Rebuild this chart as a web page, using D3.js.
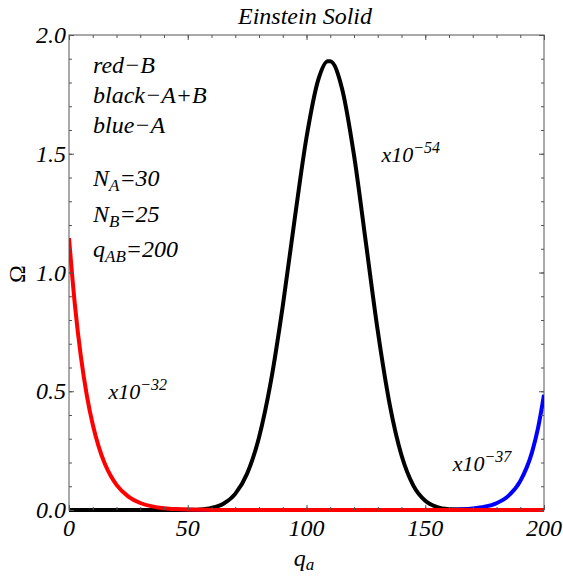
<!DOCTYPE html>
<html>
<head>
<meta charset="utf-8">
<script src="https://cdn.jsdelivr.net/npm/d3@7"></script>
<style>
  html, body { margin: 0; padding: 0; background: #fff; }
</style>
</head>
<body>
<svg id="chart" width="563" height="576"></svg>
<script>
// Multiplicity of two Einstein solids sharing q = 200 energy units (scaled values)
const qB = [0, 2.5, 5, 7.5, 10, 12.5, 15, 17.5, 20, 25, 30, 35, 40, 45, 50, 55, 60, 65, 70, 80, 100, 150, 200];
const omegaB = [1.145, 0.862, 0.646, 0.483, 0.360, 0.267, 0.197, 0.145, 0.106, 0.0565, 0.0295, 0.0151, 0.0076, 0.0038, 0.0018, 0.0009, 0.0004, 0.0002, 0.0001, 0, 0, 0, 0];

const qAB = [0, 20, 40, 45, 50, 55, 60, 65, 70, 75, 80, 85, 90, 95, 100, 105, 109, 110, 115, 120, 125, 130, 135, 140, 145, 150, 155, 160, 165, 170, 175, 200];
const omegaAB = [0, 0, 0, 0.0001, 0.0006, 0.0025, 0.0089, 0.0264, 0.0679, 0.1532, 0.3053, 0.5412, 0.8585, 1.2231, 1.5684, 1.8133, 1.8900, 1.8898, 1.7731, 1.4940, 1.1258, 0.7544, 0.4460, 0.2304, 0.1026, 0.0388, 0.0122, 0.0031, 0.0006, 0.0001, 0, 0];

const qA = [0, 100, 140, 150, 155, 160, 165, 170, 175, 180, 185, 190, 195, 197.5, 200];
const omegaA = [0, 0, 0, 0.0002, 0.0005, 0.0012, 0.0028, 0.0062, 0.0134, 0.0285, 0.0594, 0.1216, 0.2449, 0.3455, 0.485];

const xTicks = [0, 50, 100, 150, 200];
const xTickLabels = ["0", "50", "100", "150", "200"];
const yTicks = [0, 0.5, 1.0, 1.5, 2.0];
const yTickLabels = ["0.0", "0.5", "1.0", "1.5", "2.0"];

const FONT = "Liberation Serif";

const svg = d3.select("#chart");
const plotL = 69, plotR = 544, plotT = 35, plotB = 510;

const x = d3.scaleLinear().domain([0, 200]).range([plotL, plotR]);
const y = d3.scaleLinear().domain([0, 2]).range([plotB, plotT]);

const frameColor = "#555";

// all text: serif italic
function label(parent, size) {
  return parent.append("text")
    .attr("font-family", FONT)
    .attr("font-style", "italic")
    .attr("font-size", size)
    .attr("fill", "#000");
}

// frame (drawn beneath the curves)
svg.append("rect")
  .attr("x", plotL).attr("y", plotT)
  .attr("width", plotR - plotL).attr("height", plotB - plotT)
  .attr("fill", "none").attr("stroke", frameColor).attr("stroke-width", 1);

// clip curves to the horizontal extent of the frame
svg.append("defs").append("clipPath").attr("id", "plotClip")
  .append("rect").attr("x", plotL).attr("y", plotT - 10)
  .attr("width", plotR - plotL).attr("height", plotB - plotT + 16);

const line = d3.line()
  .x(d => x(d[0]))
  .y(d => y(d[1]))
  .curve(d3.curveMonotoneX);

const series = [
  { q: qA, v: omegaA, color: "#0000ff" },
  { q: qAB, v: omegaAB, color: "#000000" },
  { q: qB, v: omegaB, color: "#ff0000" }
];

const curves = svg.append("g").attr("clip-path", "url(#plotClip)");
series.forEach(s => {
  curves.append("path")
    .datum(d3.zip(s.q, s.v))
    .attr("d", line)
    .attr("fill", "none")
    .attr("stroke", s.color)
    .attr("stroke-width", 4)
    .attr("stroke-linejoin", "round");
});

// inward ticks on all four sides
const minorX = d3.range(0, 201, 10);
const minorY = d3.range(0, 21).map(i => i / 10);
const axes = [
  [d3.axisBottom(x).tickValues(minorX).tickSizeInner(-3), `translate(0,${plotB})`],
  [d3.axisTop(x).tickValues(minorX).tickSizeInner(-3), `translate(0,${plotT})`],
  [d3.axisLeft(y).tickValues(minorY).tickSizeInner(-3), `translate(${plotL},0)`],
  [d3.axisRight(y).tickValues(minorY).tickSizeInner(-3), `translate(${plotR},0)`],
  [d3.axisBottom(x).tickValues(xTicks).tickSizeInner(-5), `translate(0,${plotB})`],
  [d3.axisTop(x).tickValues(xTicks).tickSizeInner(-5), `translate(0,${plotT})`],
  [d3.axisLeft(y).tickValues(yTicks).tickSizeInner(-5), `translate(${plotL},0)`],
  [d3.axisRight(y).tickValues(yTicks).tickSizeInner(-5), `translate(${plotR},0)`]
];
axes.forEach(([ax, tr]) => {
  const g = svg.append("g").attr("transform", tr).call(ax.tickSizeOuter(0).tickFormat(""));
  g.select(".domain").remove();
  g.selectAll("text").remove();
  g.selectAll("line").attr("stroke", frameColor);
});

// tick labels
const xLab = svg.append("g");
xTicks.forEach((d, i) => {
  label(xLab, 24).attr("x", x(d)).attr("y", 536).attr("text-anchor", "middle").text(xTickLabels[i]);
});
const yLab = svg.append("g");
yTicks.forEach((d, i) => {
  label(yLab, 24).attr("x", 66).attr("y", y(d) + 8).attr("text-anchor", "end").text(yTickLabels[i]);
});

// title
label(svg, 24).attr("x", 305).attr("y", 24).attr("text-anchor", "middle").text("Einstein Solid");

// axis labels
const xl = label(svg, 24).attr("x", 304).attr("y", 566).attr("text-anchor", "middle");
xl.append("tspan").text("q");
xl.append("tspan").attr("font-size", 17).attr("dy", 4).text("a");

label(svg, 24)
  .attr("transform", "translate(25,274) rotate(-90)")
  .attr("text-anchor", "middle")
  .attr("font-style", "normal")
  .text("Ω");

// legend notes
const notes = [
  { y: 72.7, parts: [["red−B"]] },
  { y: 102.7, parts: [["black−A+B"]] },
  { y: 133.3, parts: [["blue−A"]] },
  { y: 186, parts: [["N"], ["A", "sub"], ["=30"]] },
  { y: 221.7, parts: [["N"], ["B", "sub"], ["=25"]] },
  { y: 256.7, parts: [["q"], ["AB", "sub"], ["=200"]] }
];
notes.forEach(n => {
  const t = label(svg, 24).attr("x", 93).attr("y", n.y);
  let shifted = false;
  n.parts.forEach(([s, kind]) => {
    const ts = t.append("tspan").text(s);
    if (kind === "sub") { ts.attr("font-size", 17).attr("dy", 5); shifted = true; }
    else if (shifted) { ts.attr("dy", -5); shifted = false; }
  });
});

// scale factor annotations
const scaleNotes = [
  { x: 108.5, y: 398.5, exp: "−32" },
  { x: 381.5, y: 162.3, exp: "−54" },
  { x: 452.7, y: 470.7, exp: "−37" }
];
scaleNotes.forEach(s => {
  const t = label(svg, 22).attr("x", s.x).attr("y", s.y);
  t.append("tspan").text("x10");
  t.append("tspan").attr("font-size", 16).attr("dy", -9).text(s.exp);
});
</script>
</body>
</html>
